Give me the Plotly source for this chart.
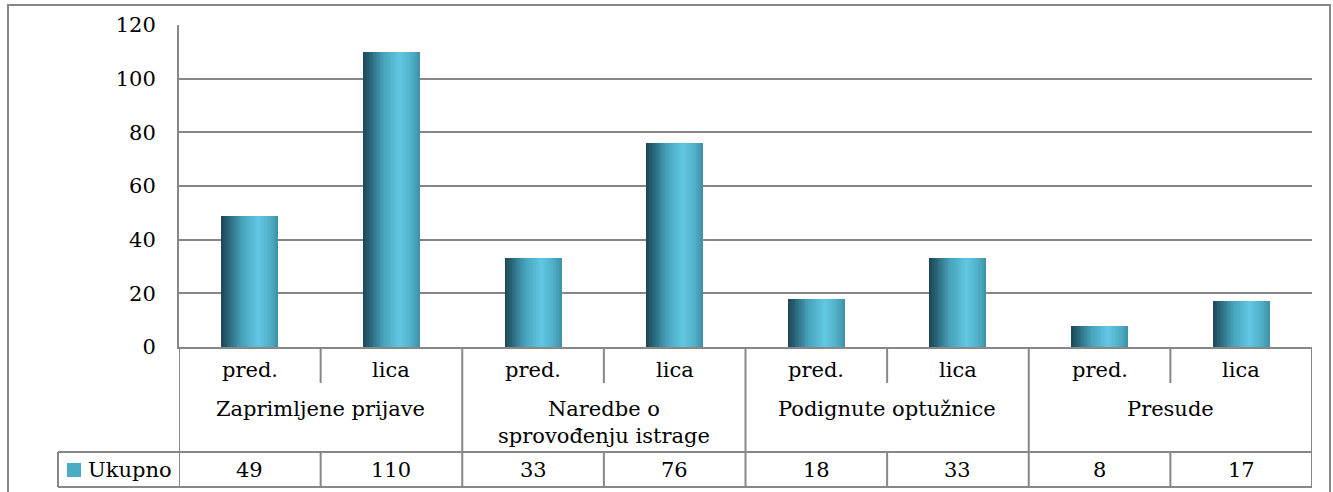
import plotly.graph_objects as go

# Values
groups = ["Zaprimljene prijave", "Naredbe o<br>sprovođenju istrage", "Podignute optužnice", "Presude"]
subcats = ["pred.", "lica"] * 4
ukupno = [49, 110, 33, 76, 18, 33, 8, 17]
series_name = "Ukupno"
y_ticks = [0, 20, 40, 60, 80, 100, 120]

W, H = 1333, 492
L, R, T, B = 179, 1312, 25, 347          # plot area in pixels
FONT = "DejaVu Serif"
FSIZE = 21
GRID = "#878787"


def pxx(X):
    return (X - L) / (R - L)


def pxy(Y):
    return (B - Y) / (B - T)


# cylinder-like horizontal gradient for the bars
stops = [(0.0, (30, 70, 84)), (0.12, (40, 100, 118)), (0.35, (70, 160, 185)),
         (0.65, (98, 200, 228)), (0.85, (80, 175, 200)), (1.0, (62, 145, 168))]


def grad(t):
    for (t0, c0), (t1, c1) in zip(stops[:-1], stops[1:]):
        if t0 <= t <= t1:
            f = (t - t0) / (t1 - t0)
            return "rgb(%d,%d,%d)" % tuple(round(a + (b - a) * f) for a, b in zip(c0, c1))
    return "rgb(%d,%d,%d)" % stops[-1][1]


xpos = list(range(len(ukupno)))
bar_w = 0.402
n_strips = 40
sw = bar_w / n_strips

fig = go.Figure()
for i in range(n_strips):
    off = -bar_w / 2 + i * sw
    wid = min(sw * 1.8, bar_w / 2 - off)
    fig.add_trace(go.Bar(
        x=xpos, y=ukupno, offset=off, width=wid,
        marker=dict(color=grad((i + 0.5) / n_strips), line=dict(width=0)),
        showlegend=False, hoverinfo="skip"))

shapes = []
line = dict(color=GRID, width=2)

# outer chart border
shapes.append(dict(type="rect", xref="paper", yref="paper",
                   x0=pxx(8), x1=pxx(1330), y0=pxy(700), y1=pxy(5), line=line,
                   layer="above"))

# data table grid
y_sub, y_val, y_bot = 383, 452, 487
for k in range(len(ukupno) + 1):
    xb = k - 0.5
    if k % 2 == 0:
        shapes.append(dict(type="line", xref="x", yref="paper", x0=xb, x1=xb,
                           y0=pxy(B), y1=pxy(y_bot), line=line))
    else:
        shapes.append(dict(type="line", xref="x", yref="paper", x0=xb, x1=xb,
                           y0=pxy(B), y1=pxy(y_sub), line=line))
        shapes.append(dict(type="line", xref="x", yref="paper", x0=xb, x1=xb,
                           y0=pxy(y_val), y1=pxy(y_bot), line=line))
for yy in (y_val, y_bot):
    shapes.append(dict(type="line", xref="paper", yref="paper", x0=pxx(58), x1=1,
                       y0=pxy(yy), y1=pxy(yy), line=line))
shapes.append(dict(type="line", xref="paper", yref="paper", x0=pxx(58), x1=pxx(58),
                   y0=pxy(y_val), y1=pxy(y_bot), line=line))
# legend key in the table
shapes.append(dict(type="rect", xref="paper", yref="paper", x0=pxx(67), x1=pxx(81),
                   y0=pxy(463), y1=pxy(477), fillcolor="#4bacc6", line=dict(width=0)))

ann = []
tf = dict(family=FONT, size=FSIZE, color="black")
for k, s in enumerate(subcats):
    ann.append(dict(x=k, y=pxy(370), xref="x", yref="paper", text=s, showarrow=False,
                    font=tf, xanchor="center", yanchor="middle"))
for g, name in enumerate(groups):
    ann.append(dict(x=2 * g + 0.5, y=pxy(395), xref="x", yref="paper", text=name,
                    showarrow=False, font=tf, xanchor="center", yanchor="top"))
for k, v in enumerate(ukupno):
    ann.append(dict(x=k, y=pxy(470), xref="x", yref="paper", text=str(v), showarrow=False,
                    font=tf, xanchor="center", yanchor="middle"))
ann.append(dict(x=pxx(86), y=pxy(470), xref="paper", yref="paper", text=series_name,
                showarrow=False, font=tf, xanchor="left", yanchor="middle"))

fig.update_layout(
    width=W, height=H,
    margin=dict(l=L, r=W - R, t=T, b=H - B, pad=0),
    paper_bgcolor="white", plot_bgcolor="white",
    barmode="overlay", bargap=0,
    shapes=shapes, annotations=ann,
    xaxis=dict(range=[-0.5, len(ukupno) - 0.5], showticklabels=False, showgrid=False,
               zeroline=False, showline=True, linecolor=GRID, linewidth=2, fixedrange=True),
    yaxis=dict(range=[0, 120], tickvals=y_ticks, ticktext=[str(t) for t in y_ticks],
               showgrid=True, gridcolor=GRID, gridwidth=2, zeroline=False,
               showline=True, linecolor=GRID, linewidth=2, ticks="", ticklabelstandoff=17,
               tickfont=tf, fixedrange=True),
)

fig.write_html("out.html", config={"displayModeBar": False})
